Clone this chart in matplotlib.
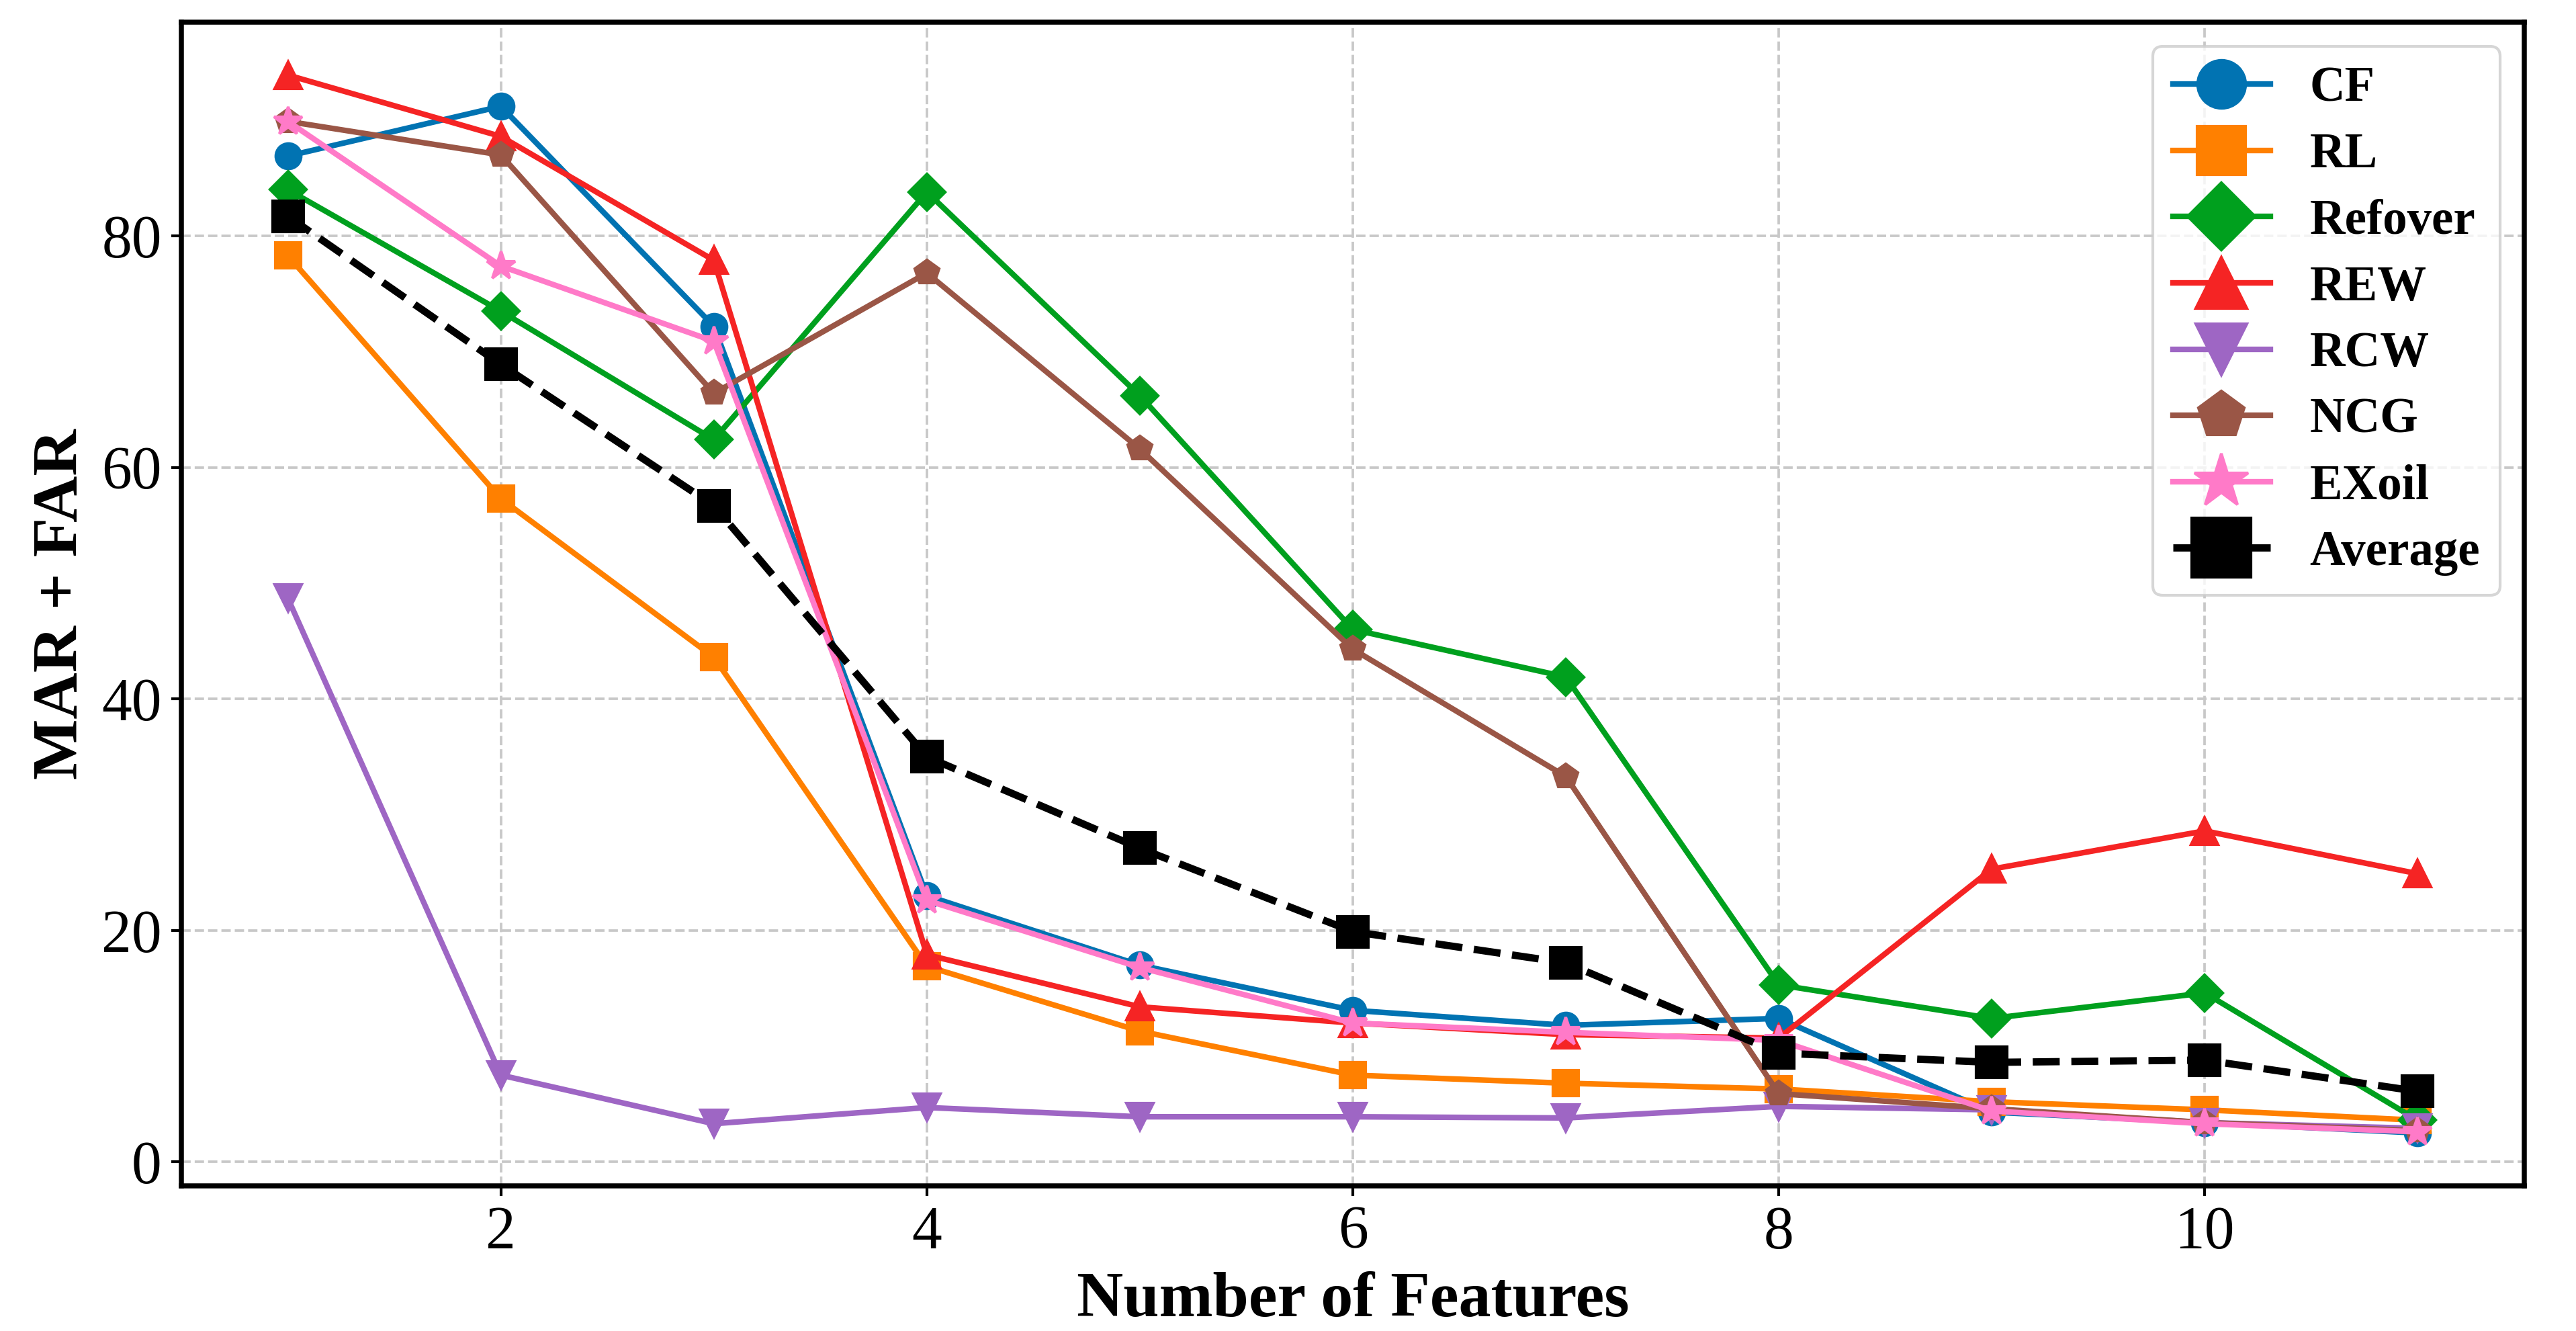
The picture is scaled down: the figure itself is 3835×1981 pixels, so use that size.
import matplotlib
matplotlib.use("Agg")
import matplotlib.pyplot as plt

plt.rcParams['font.family'] = ['Liberation Serif', 'DejaVu Serif']

features = [1, 2, 3, 4, 5, 6, 7, 8, 9, 10, 11]
series_names = ["CF", "RL", "Refover", "REW", "RCW", "NCG", "EXoil", "Average"]

CF = [86.9, 91.2, 72.2, 23.0, 17.0, 13.1, 11.8, 12.4, 4.3, 3.4, 2.5]
RL = [78.3, 57.3, 43.6, 16.9, 11.3, 7.5, 6.8, 6.3, 5.2, 4.5, 3.6]
Refover = [84.0, 73.5, 62.4, 83.8, 66.2, 46.0, 41.9, 15.3, 12.4, 14.6, 3.6]
REW = [93.9, 88.6, 77.9, 17.9, 13.4, 12.0, 11.0, 10.7, 25.3, 28.6, 24.9]
RCW = [48.7, 7.5, 3.3, 4.7, 3.9, 3.9, 3.8, 4.8, 4.5, 3.4, 2.9]
NCG = [89.9, 87.0, 66.4, 76.8, 61.6, 44.3, 33.3, 5.9, 4.6, 3.4, 2.7]
EXoil = [89.9, 77.4, 70.9, 22.6, 16.8, 12.0, 11.2, 10.5, 4.4, 3.3, 2.6]
Average = [81.7, 68.9, 56.7, 35.0, 27.1, 19.9, 17.2, 9.4, 8.6, 8.8, 6.1]

values = [CF, RL, Refover, REW, RCW, NCG, EXoil, Average]
colors = ['#0173B2', '#FF8000', '#00A01E', '#F52424', '#9E66C4', '#9A5646', '#FF7AC8', '#000000']
markers = ['o', 's', 'D', '^', 'v', 'p', '*', 's']
msizes = [9, 9, 9, 9.5, 9.5, 9, 10.5, 11]
styles = ['-', '-', '-', '-', '-', '-', '-', '--']
widths = [2.0, 2.0, 2.0, 2.0, 2.0, 2.0, 2.0, 2.6]

fig = plt.figure(figsize=(3835 / 300, 1981 / 300), dpi=300)
ax = fig.add_axes([270 / 3835, 1 - 1765 / 1981, (3758 - 270) / 3835, (1765 - 33) / 1981])

for name, vals, c, m, ms, ls, lw in zip(series_names, values, colors, markers, msizes, styles, widths):
    ax.plot(features, vals, color=c, marker=m, markersize=ms, linestyle=ls,
            linewidth=lw, label=name)

ax.grid(True, linestyle='--', color='#c8c8c8', linewidth=0.9)
ax.set_axisbelow(True)

ax.set_xlabel("Number of Features", fontsize=23, fontweight='bold')
ax.set_ylabel("MAR + FAR", fontsize=23, fontweight='bold')
ax.tick_params(axis='both', labelsize=21.5, width=1.0, length=3.5)
for sp in ax.spines.values():
    sp.set_linewidth(1.8)
    sp.set_color('black')

leg = ax.legend(loc='upper right', markerscale=1.9, labelspacing=0.42,
                prop={'family': ['Liberation Serif', 'DejaVu Serif'], 'weight': 'bold', 'size': 17.5})

fig.savefig("out.png", dpi=300)
